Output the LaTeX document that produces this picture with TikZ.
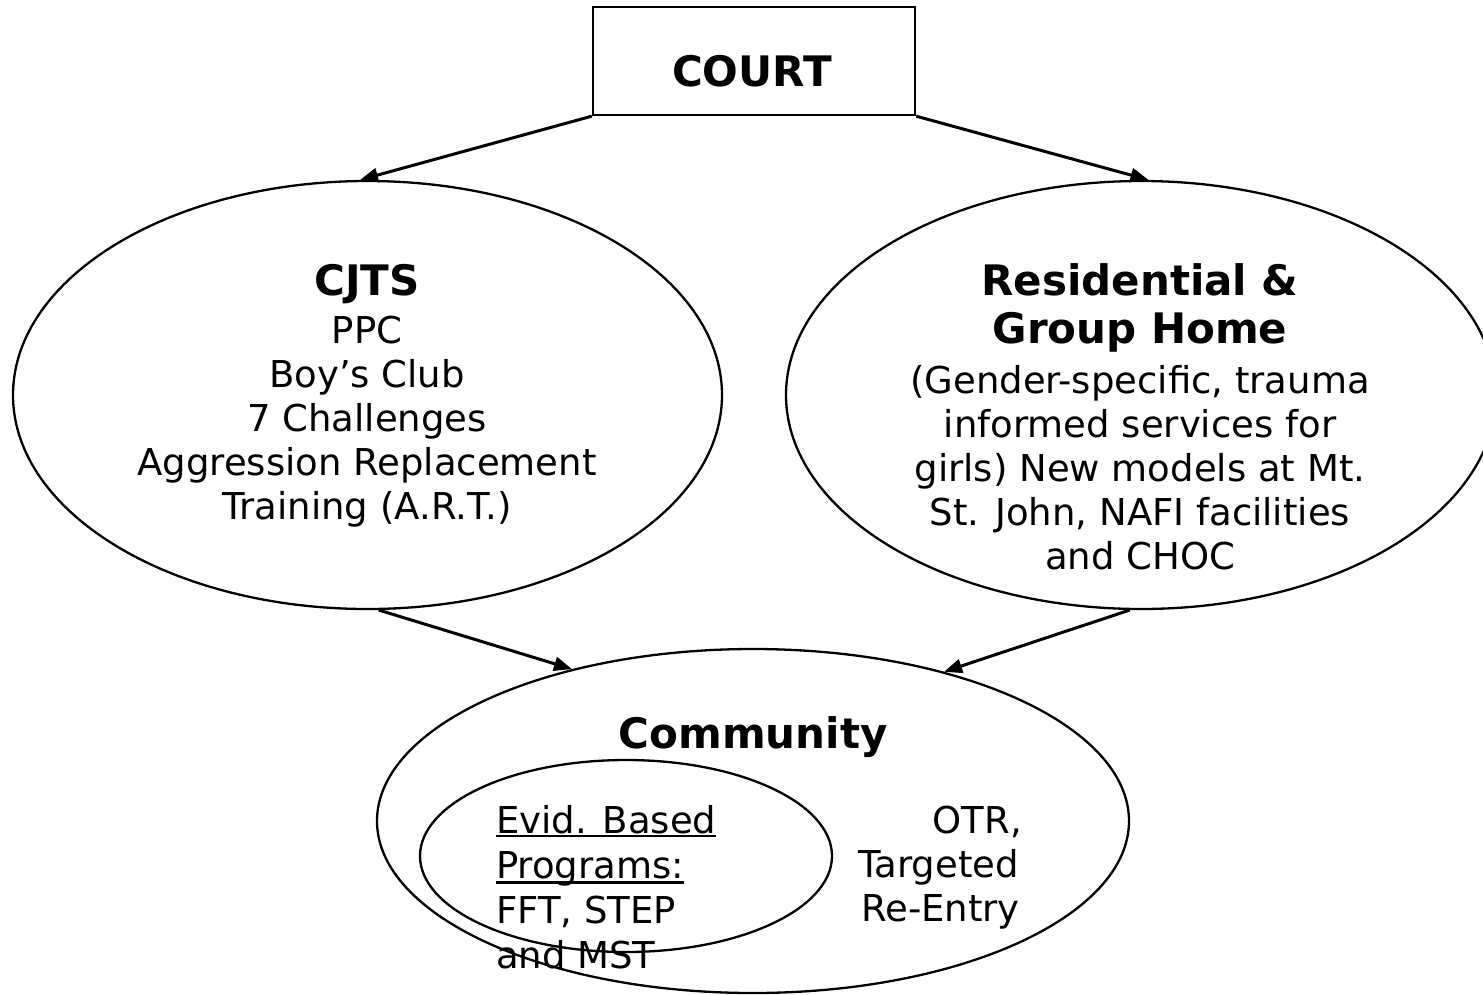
\documentclass[tikz,border=0pt]{standalone}
\usepackage{fontspec}
\setmainfont{DejaVu Sans}
\usetikzlibrary{shapes.geometric,arrows.meta}
\begin{document}
\begin{tikzpicture}[x=1pt,y=-1pt,
  oval/.style={ellipse,draw,line width=2.3pt,inner sep=0pt},
  box/.style={rectangle,draw,line width=2.3pt,inner sep=0pt},
  arr/.style={line width=3pt,-{Triangle[length=18pt,width=14pt]}},
  reg/.style={inner sep=0pt,anchor=base,font=\fontsize{37}{44}\selectfont},
  hd/.style={inner sep=0pt,anchor=base,font=\fontsize{42}{48}\selectfont\bfseries},
  uln/.style={line width=2.7pt}]
\useasboundingbox (0,0) rectangle (1483,994);
% shapes
\node[box,minimum width=322pt,minimum height=108pt] (court) at (754,61) {};
\node[oval,minimum width=709pt,minimum height=428pt] (cjts) at (367.5,395) {};
\node[oval,minimum width=710pt,minimum height=428pt] (res) at (1141,395) {};
\node[oval,minimum width=752pt,minimum height=344pt] (comm) at (753,821) {};
\node[oval,minimum width=412pt,minimum height=192pt] (ebp) at (626,856) {};
% texts
\node[hd] (courtt) at (752,86.5) {COURT};
\node[hd] (c1) at (367,295) {CJTS};
\node[reg] (c2) at (367,343) {PPC};
\node[reg] (c3) at (367,387) {Boy’s Club};
\node[reg] (c4) at (367,431) {7 Challenges};
\node[reg] (c5) at (367,475) {Aggression Replacement};
\node[reg] (c6) at (367,519) {Training (A.R.T.)};
\node[hd] (r1) at (1140,295) {Residential \&};
\node[hd] (r2) at (1140,343) {Group Home};
\node[reg] (r3) at (1140,393) {(Gender-specific, trauma};
\node[reg] (r4) at (1140,437) {informed services for};
\node[reg] (r5) at (1140,481) {girls) New models at Mt.};
\node[reg] (r6) at (1140,525) {St. John, NAFI facilities};
\node[reg] (r7) at (1140,569) {and CHOC};
\node[hd] (m1) at (753,748) {Community};
\node[reg,anchor=base west] (e1) at (496,833) {Evid. Based};
\node[reg,anchor=base west] (e2) at (496,878) {Programs:};
\node[reg,anchor=base west] (e3) at (496,923) {FFT, STEP};
\node[reg,anchor=base west] (e4) at (496,968) {and MST};
\node[reg,anchor=base east] (o1) at (1022,833) {OTR,};
\node[reg,anchor=base east] (o2) at (1019,877) {Targeted};
\node[reg,anchor=base east] (o3) at (1020,921) {Re-Entry};
\draw[uln] ([yshift=-3pt]e1.base west) -- ([yshift=-3pt]e1.base east);
\draw[uln] ([yshift=-4.5pt]e2.base west) -- ([yshift=-4.5pt]e2.base east);
% connectors
\draw[arr] (court.south west) -- (cjts.92.5);
\draw[arr] (court.south east) -- (res.88);
\draw[arr] (cjts.-87) -- (comm.140.7);
\draw[arr] (res.-93.5) -- (comm.38.8);
\end{tikzpicture}
\end{document}
